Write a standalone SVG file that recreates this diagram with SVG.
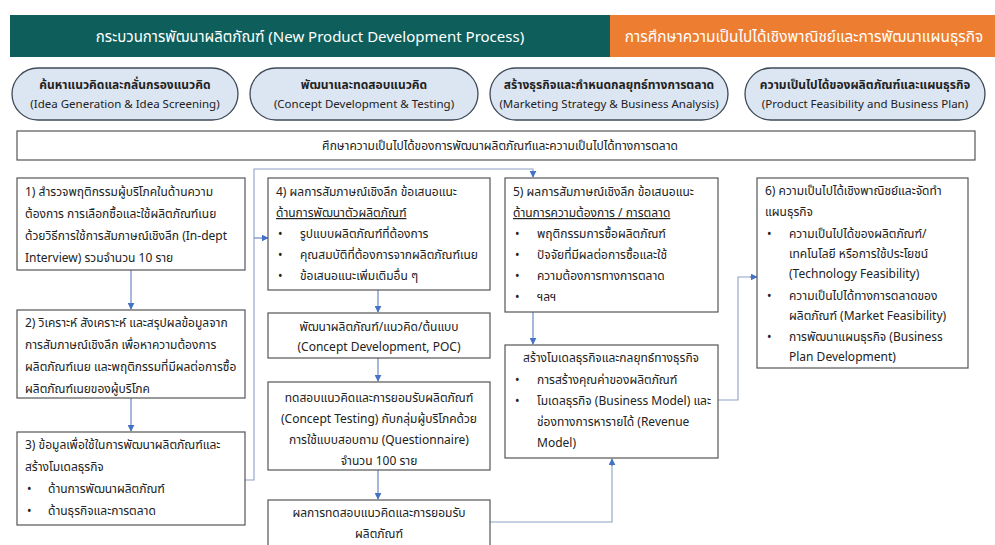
<svg xmlns="http://www.w3.org/2000/svg" width="995" height="545" viewBox="0 0 995 545">
  <defs>
    <marker id="arr" viewBox="0 0 10 10" refX="9" refY="5" markerWidth="7" markerHeight="7" markerUnits="userSpaceOnUse" orient="auto">
      <path d="M0,0 L10,5 L0,10 z" fill="#4472c4"/>
    </marker>
    <style>
      text { font-family: "Noto Sans Thai", "Noto Sans", "Liberation Sans", sans-serif; fill: #222; }
      .hd { font-size: 15px; fill: #fff; }
      .hd2 { font-size: 15.4px; fill: #fff; }
      .pill { fill: #dce6f2; stroke: #3f4a58; stroke-width: 1.3; }
      .pt { font-size: 12px; font-weight: bold; text-anchor: middle; }
      .pe { font-size: 11.5px; text-anchor: middle; }
      .box { fill: #fff; stroke: #555; stroke-width: 1.2; }
      .t { font-size: 12px; }
      .c { text-anchor: middle; }
      .u { text-decoration: underline; }
      .conn { fill: none; stroke: #8ea2c6; stroke-width: 1.1; }
      .arrow { fill: none; stroke: #5b7fbf; stroke-width: 1.1; marker-end: url(#arr); }
    </style>
  </defs>

  <rect width="995" height="545" fill="#fff"/>

  <!-- title bands -->
  <g id="band-npd">
    <rect x="10" y="15" width="600" height="42" fill="#0e5f5c"/>
    <text class="hd" x="310" y="42" text-anchor="middle">กระบวนการพัฒนาผลิตภัณฑ์ (New Product Development Process)</text>
  </g>
  <g id="band-feasibility">
    <rect x="610" y="15" width="385" height="42" fill="#ed7d31"/>
    <text class="hd2" x="804" y="42" text-anchor="middle">การศึกษาความเป็นไปได้เชิงพาณิชย์และการพัฒนาแผนธุรกิจ</text>
  </g>

  <!-- stage pills -->
  <g id="stage-1">
    <rect class="pill" x="12" y="68" width="226" height="52" rx="26"/>
    <text class="pt" x="125" y="89">ค้นหาแนวคิดและกลั่นกรองแนวคิด</text>
    <text class="pe" x="125" y="108">(Idea Generation &amp; Idea Screening)</text>
  </g>
  <g id="stage-2">
    <rect class="pill" x="250" y="68" width="228" height="52" rx="26"/>
    <text class="pt" x="364" y="89">พัฒนาและทดสอบแนวคิด</text>
    <text class="pe" x="364" y="108">(Concept Development &amp; Testing)</text>
  </g>
  <g id="stage-3">
    <rect class="pill" x="490" y="68" width="238" height="52" rx="26"/>
    <text class="pt" x="609" y="89">สร้างธุรกิจและกำหนดกลยุทธ์ทางการตลาด</text>
    <text class="pe" x="609" y="108">(Marketing Strategy &amp; Business Analysis)</text>
  </g>
  <g id="stage-4">
    <rect class="pill" x="745" y="68" width="240" height="52" rx="26"/>
    <text class="pt" x="865" y="89">ความเป็นไปได้ของผลิตภัณฑ์และแผนธุรกิจ</text>
    <text class="pe" x="865" y="108">(Product Feasibility and Business Plan)</text>
  </g>

  <!-- overall study banner -->
  <g id="study">
    <rect class="box" x="17" y="131" width="958" height="29"/>
    <text class="t c" x="500" y="150">ศึกษาความเป็นไปได้ของการพัฒนาผลิตภัณฑ์และความเป็นไปได้ทางการตลาด</text>
  </g>

  <!-- connectors -->
  <g id="connectors">
    <path class="conn" d="M245,480 H254 V169 H533 V176"/>
    <path class="arrow" d="M533,172 V177"/>
    <path class="arrow" d="M254,238 H268"/>
    <path class="arrow" d="M131,270 V309"/>
    <path class="arrow" d="M131,398 V431"/>
    <path class="arrow" d="M378,290 V312"/>
    <path class="arrow" d="M378,358 V381"/>
    <path class="arrow" d="M378,470 V499"/>
    <path class="arrow" d="M533,312 V344"/>
    <path class="conn" d="M490,522 H612 V462"/>
    <path class="arrow" d="M612,466 V459"/>
    <path class="conn" d="M718,400 H738 V277 H752"/>
    <path class="arrow" d="M750,277 H757"/>
  </g>

  <!-- column 1 -->
  <g id="step-1">
    <rect class="box" x="17" y="178" width="228" height="92"/>
    <text class="t" x="25" y="196">1) สำรวจพฤติกรรมผู้บริโภคในด้านความ</text>
    <text class="t" x="25" y="218">ต้องการ การเลือกซื้อและใช้ผลิตภัณฑ์เนย</text>
    <text class="t" x="25" y="240">ด้วยวิธีการใช้การสัมภาษณ์เชิงลึก (In-dept</text>
    <text class="t" x="25" y="262">Interview) รวมจำนวน 10 ราย</text>
  </g>
  <g id="step-2">
    <rect class="box" x="17" y="310" width="228" height="88"/>
    <text class="t" x="25" y="327">2) วิเคราะห์ สังเคราะห์ และสรุปผลข้อมูลจาก</text>
    <text class="t" x="25" y="349">การสัมภาษณ์เชิงลึก เพื่อหาความต้องการ</text>
    <text class="t" x="25" y="371">ผลิตภัณฑ์เนย และพฤติกรรมที่มีผลต่อการซื้อ</text>
    <text class="t" x="25" y="393">ผลิตภัณฑ์เนยของผู้บริโภค</text>
  </g>
  <g id="step-3">
    <rect class="box" x="17" y="432" width="228" height="93"/>
    <text class="t" x="25" y="449">3) ข้อมูลเพื่อใช้ในการพัฒนาผลิตภัณฑ์และ</text>
    <text class="t" x="25" y="471">สร้างโมเดลธุรกิจ</text>
    <text class="t" x="27" y="493">•</text>
    <text class="t" x="48" y="493">ด้านการพัฒนาผลิตภัณฑ์</text>
    <text class="t" x="27" y="515">•</text>
    <text class="t" x="48" y="515">ด้านธุรกิจและการตลาด</text>
  </g>

  <!-- column 2 -->
  <g id="step-4">
    <rect class="box" x="268" y="178" width="222" height="112"/>
    <text class="t" x="276" y="196">4) ผลการสัมภาษณ์เชิงลึก ข้อเสนอแนะ</text>
    <text class="t u" x="276" y="217">ด้านการพัฒนาตัวผลิตภัณฑ์</text>
    <text class="t" x="278" y="238">•</text>
    <text class="t" x="300" y="238">รูปแบบผลิตภัณฑ์ที่ต้องการ</text>
    <text class="t" x="278" y="259">•</text>
    <text class="t" x="300" y="259">คุณสมบัติที่ต้องการจากผลิตภัณฑ์เนย</text>
    <text class="t" x="278" y="280">•</text>
    <text class="t" x="300" y="280">ข้อเสนอแนะเพิ่มเติมอื่น ๆ</text>
  </g>
  <g id="concept-dev">
    <rect class="box" x="268" y="313" width="222" height="45"/>
    <text class="t c" x="379" y="331">พัฒนาผลิตภัณฑ์/แนวคิด/ต้นแบบ</text>
    <text class="t c" x="379" y="351">(Concept Development, POC)</text>
  </g>
  <g id="concept-test">
    <rect class="box" x="268" y="382" width="222" height="88"/>
    <text class="t c" x="379" y="402">ทดสอบแนวคิดและการยอมรับผลิตภัณฑ์</text>
    <text class="t c" x="379" y="423">(Concept Testing) กับกลุ่มผู้บริโภคด้วย</text>
    <text class="t c" x="379" y="444">การใช้แบบสอบถาม (Questionnaire)</text>
    <text class="t c" x="379" y="465">จำนวน 100 ราย</text>
  </g>
  <g id="test-result">
    <rect class="box" x="268" y="500" width="222" height="52"/>
    <text class="t c" x="379" y="517">ผลการทดสอบแนวคิดและการยอมรับ</text>
    <text class="t c" x="379" y="538">ผลิตภัณฑ์</text>
  </g>

  <!-- column 3 -->
  <g id="step-5">
    <rect class="box" x="505" y="178" width="213" height="134"/>
    <text class="t" x="513" y="196">5) ผลการสัมภาษณ์เชิงลึก ข้อเสนอแนะ</text>
    <text class="t u" x="513" y="217">ด้านการความต้องการ / การตลาด</text>
    <text class="t" x="515" y="238">•</text>
    <text class="t" x="537" y="238">พฤติกรรมการซื้อผลิตภัณฑ์</text>
    <text class="t" x="515" y="259">•</text>
    <text class="t" x="537" y="259">ปัจจัยที่มีผลต่อการซื้อและใช้</text>
    <text class="t" x="515" y="280">•</text>
    <text class="t" x="537" y="280">ความต้องการทางการตลาด</text>
    <text class="t" x="515" y="301">•</text>
    <text class="t" x="537" y="301">ฯลฯ</text>
  </g>
  <g id="business-model">
    <rect class="box" x="505" y="345" width="213" height="113"/>
    <text class="t c" x="611" y="362">สร้างโมเดลธุรกิจและกลยุทธ์ทางธุรกิจ</text>
    <text class="t" x="515" y="384">•</text>
    <text class="t" x="537" y="384">การสร้างคุณค่าของผลิตภัณฑ์</text>
    <text class="t" x="515" y="405">•</text>
    <text class="t" x="537" y="405">โมเดลธุรกิจ (Business Model) และ</text>
    <text class="t" x="537" y="426">ช่องทางการหารายได้ (Revenue</text>
    <text class="t" x="537" y="447">Model)</text>
  </g>

  <!-- column 4 -->
  <g id="step-6">
    <rect class="box" x="757" y="178" width="211" height="190"/>
    <text class="t" x="765" y="195">6) ความเป็นไปได้เชิงพาณิชย์และจัดทำ</text>
    <text class="t" x="765" y="216">แผนธุรกิจ</text>
    <text class="t" x="767" y="238">•</text>
    <text class="t" x="789" y="238">ความเป็นไปได้ของผลิตภัณฑ์/</text>
    <text class="t" x="789" y="258">เทคโนโลยี หรือการใช้ประโยชน์</text>
    <text class="t" x="789" y="278">(Technology Feasibility)</text>
    <text class="t" x="767" y="300">•</text>
    <text class="t" x="789" y="300">ความเป็นไปได้ทางการตลาดของ</text>
    <text class="t" x="789" y="320">ผลิตภัณฑ์ (Market Feasibility)</text>
    <text class="t" x="767" y="341">•</text>
    <text class="t" x="789" y="341">การพัฒนาแผนธุรกิจ (Business</text>
    <text class="t" x="789" y="361">Plan Development)</text>
  </g>
</svg>
